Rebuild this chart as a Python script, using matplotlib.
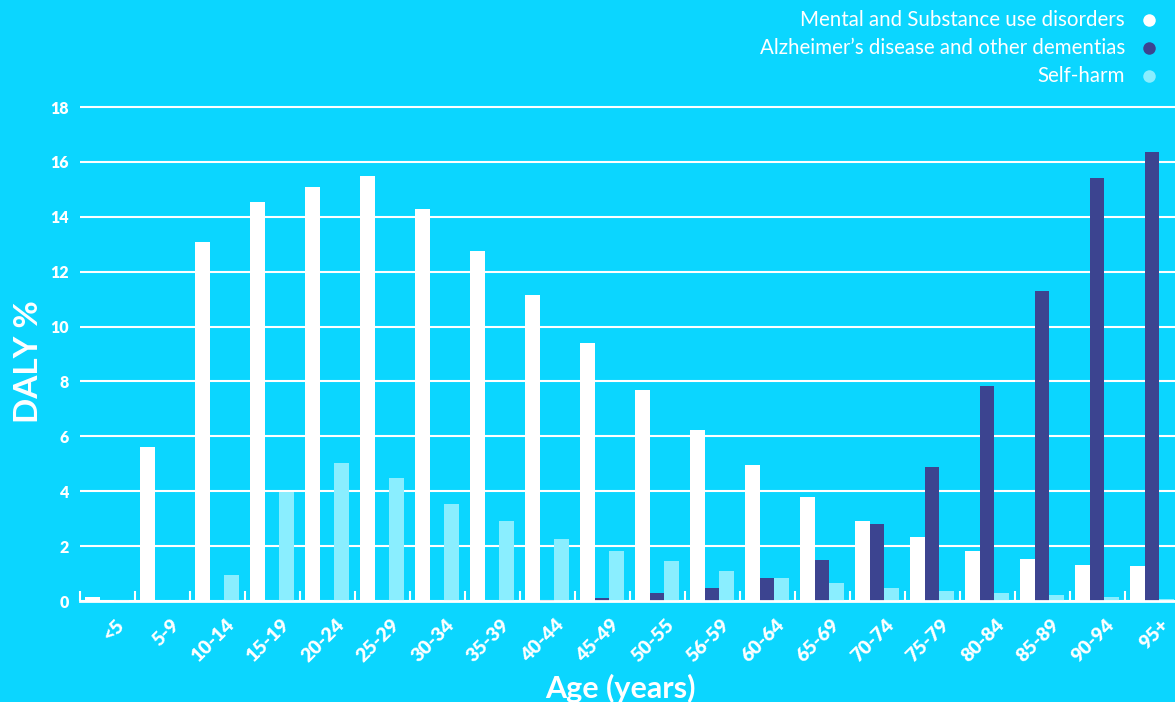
import numpy as np
import matplotlib.pyplot as plt
from matplotlib.lines import Line2D

plt.rcParams['font.family'] = ['Lato', 'DejaVu Sans']

ages = ['<5', '5-9', '10-14', '15-19', '20-24', '25-29', '30-34', '35-39', '40-44', '45-49',
        '50-55', '56-59', '60-64', '65-69', '70-74', '75-79', '80-84', '85-89', '90-94', '95+']

mental = [0.15, 5.6, 13.1, 14.55, 15.1, 15.5, 14.3, 12.75, 11.15, 9.4,
          7.7, 6.25, 4.95, 3.8, 2.92, 2.35, 1.82, 1.53, 1.31, 1.28]
alzheimer = [0.0, 0.0, 0.0, 0.0, 0.0, 0.0, 0.0, 0.0, 0.05, 0.1,
             0.28, 0.46, 0.83, 1.48, 2.8, 4.9, 7.85, 11.28, 15.42, 16.35]
selfharm = [0.02, 0.01, 0.93, 3.97, 5.03, 4.5, 3.55, 2.9, 2.27, 1.83,
            1.47, 1.1, 0.83, 0.64, 0.49, 0.38, 0.3, 0.23, 0.16, 0.09]

series = ['Mental and Substance use disorders', 'Alzheimer\u2019s disease and other dementias', 'Self-harm']

bg = '#0bd6ff'
c_white = '#ffffff'
c_dark = '#3c4490'
c_light = '#8aeeff'

fig = plt.figure(figsize=(11.75, 7.02), dpi=100, facecolor=bg)
ax = fig.add_axes([80 / 1175, (702 - 601) / 702, 1 - 80 / 1175, (601 - 101.6) / 702])
ax.set_facecolor(bg)

x = np.arange(len(ages))
w = 0.267
off = 0.09
ax.bar(x + off, mental, w, align='edge', color=c_white, zorder=3)
ax.bar(x + off + w, alzheimer, w, align='edge', color=c_dark, zorder=3)
ax.bar(x + off + 2 * w, selfharm, w, align='edge', color=c_light, zorder=3)

ax.set_xlim(0, 1095 / 55)
ax.set_ylim(0, 18.2)

ax.set_yticks(np.arange(0, 19, 2))
ax.yaxis.grid(True, color='white', linewidth=1.5, zorder=0)
ax.tick_params(axis='y', length=0, pad=8, labelsize=11.5, labelcolor='white')
for t in ax.get_yticklabels():
    t.set_fontweight('heavy')

ax.set_xticks(x + 0.64)
ax.set_xticklabels(ages, rotation=45, ha='right', rotation_mode='anchor',
                   fontsize=14, fontweight='heavy', color='white')
ax.tick_params(axis='x', which='major', length=0, pad=11)
ax.set_xticks(x, minor=True)
ax.tick_params(axis='x', which='minor', direction='in', length=7, width=1.5, color='white')

for s in ['top', 'right', 'left']:
    ax.spines[s].set_visible(False)
ax.spines['bottom'].set_color('white')
ax.spines['bottom'].set_linewidth(2)
ax.spines['bottom'].set_zorder(4)

fig.text(620 / 1175, 1 - 688 / 702, 'Age (years)', ha='center', va='center',
         fontsize=22, fontweight='bold', color='white')
fig.text(28 / 1175, 1 - 362 / 702, 'DALY %', ha='center', va='center', rotation=90,
         fontsize=24, fontweight='bold', color='white')

for i, (name, col) in enumerate(zip(series, [c_white, c_dark, c_light])):
    yy = 1 - (20 + 28 * i) / 702
    fig.text(1125 / 1175, yy, name, ha='right', va='center', fontsize=14.8, color='white')
    fig.add_artist(Line2D([1149 / 1175], [yy], marker='o', markersize=9, color=col,
                          markeredgewidth=0, transform=fig.transFigure))

fig.savefig('out.png', dpi=100, facecolor=bg)
